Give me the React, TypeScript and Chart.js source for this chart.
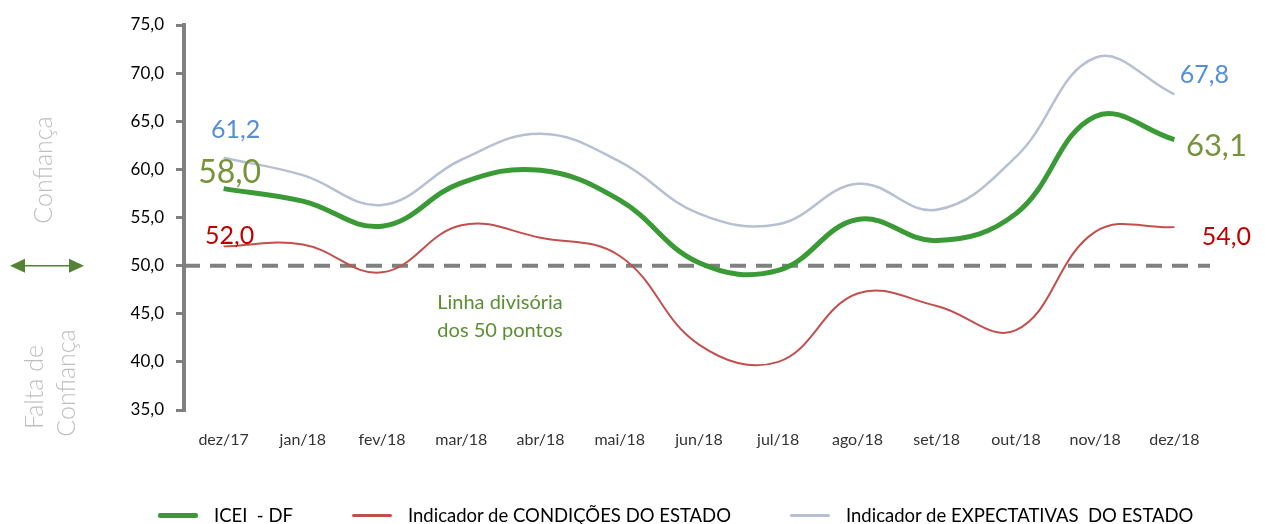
import React, { useEffect, useRef } from "react";
import { Chart, registerables } from "chart.js";

Chart.register(...registerables);

const categories = ["dez/17", "jan/18", "fev/18", "mar/18", "abr/18", "mai/18", "jun/18", "jul/18", "ago/18", "set/18", "out/18", "nov/18", "dez/18"];
const iceiDF = [58.0, 56.7, 54.1, 58.6, 59.9, 56.8, 50.3, 49.5, 54.8, 52.6, 55.4, 65.5, 63.1];
const condicoes = [52.0, 52.2, 49.3, 54.2, 52.9, 51.0, 41.8, 40.0, 47.1, 45.8, 43.3, 53.5, 54.0];
const expectativas = [61.2, 59.4, 56.3, 61.0, 63.7, 60.8, 55.4, 54.3, 58.5, 55.8, 61.3, 71.6, 67.8];
const seriesNames = ["ICEI  - DF", "Indicador de CONDIÇÕES DO ESTADO", "Indicador de EXPECTATIVAS  DO ESTADO"];
const dividerValue = 50;
const yMin = 35;
const yMax = 75;

const FONT = "Lato, 'Open Sans', sans-serif";

const fmt = (v: number) => v.toFixed(1).replace(".", ",");

const decorPlugin = {
  id: "decor",
  beforeDatasetsDraw(chart: any) {
    const { ctx, chartArea, scales } = chart;
    const y = scales.y.getPixelForValue(dividerValue);
    ctx.save();
    ctx.strokeStyle = "#808080";
    ctx.lineWidth = 4;
    ctx.setLineDash([16, 10]);
    ctx.beginPath();
    ctx.moveTo(chartArea.left, y);
    ctx.lineTo(chartArea.right - 4, y);
    ctx.stroke();
    ctx.restore();
  },
  afterDatasetsDraw(chart: any) {
    const { ctx, scales } = chart;
    const y50 = scales.y.getPixelForValue(dividerValue);
    ctx.save();
    // divider annotation
    ctx.fillStyle = "#5B8F33";
    ctx.font = `20px ${FONT}`;
    ctx.textAlign = "center";
    ctx.textBaseline = "middle";
    ctx.fillText("Linha divisória", 500, y50 + 37);
    ctx.fillText("dos 50 pontos", 500, y50 + 65);

    // arrow
    ctx.strokeStyle = "#548235";
    ctx.fillStyle = "#548235";
    ctx.lineWidth = 1.5;
    ctx.beginPath();
    ctx.moveTo(20, y50);
    ctx.lineTo(74, y50);
    ctx.stroke();
    ctx.beginPath();
    ctx.moveTo(10, y50);
    ctx.lineTo(25, y50 - 7);
    ctx.lineTo(25, y50 + 7);
    ctx.closePath();
    ctx.fill();
    ctx.beginPath();
    ctx.moveTo(84, y50);
    ctx.lineTo(69, y50 - 7);
    ctx.lineTo(69, y50 + 7);
    ctx.closePath();
    ctx.fill();

    // rotated labels
    ctx.fillStyle = "#BFBFBF";
    ctx.font = `300 25px ${FONT}`;
    const rot = (t: string, x: number, yy: number) => {
      ctx.save();
      ctx.translate(x, yy);
      ctx.rotate(-Math.PI / 2);
      ctx.fillText(t, 0, 0);
      ctx.restore();
    };
    rot("Confiança", 44, 170);
    rot("Falta de", 35, 387);
    rot("Confiança", 67, 383);

    // data labels
    const lab = (di: number, idx: number, text: string, color: string, size: number, dx: number, dy: number) => {
      const pt = chart.getDatasetMeta(di).data[idx];
      ctx.fillStyle = color;
      ctx.font = `${size}px ${FONT}`;
      ctx.textAlign = "center";
      ctx.textBaseline = "middle";
      ctx.fillText(text, pt.x + dx, pt.y + dy);
    };
    const last = categories.length - 1;
    lab(2, 0, fmt(expectativas[0]), "#558ED5", 25, 12, -28);
    lab(0, 0, fmt(iceiDF[0]), "#77933C", 32, 6, -16);
    lab(1, 0, fmt(condicoes[0]), "#C00000", 25, 6, -10);
    lab(2, last, fmt(expectativas[last]), "#558ED5", 25, 30, -19);
    lab(0, last, fmt(iceiDF[last]), "#77933C", 31, 42, 6);
    lab(1, last, fmt(condicoes[last]), "#C00000", 25, 52, 10);
    ctx.restore();
  },
};

export default function App() {
  const ref = useRef<HTMLCanvasElement | null>(null);
  useEffect(() => {
    document.body.style.margin = "0";
    const chart = new Chart(ref.current as HTMLCanvasElement, {
      type: "line",
      data: {
        labels: categories,
        datasets: [
          { label: seriesNames[0], data: iceiDF, borderColor: "#3A9A35", borderWidth: 5, pointRadius: 0, tension: 0.4, fill: false },
          { label: seriesNames[1], data: condicoes, borderColor: "#C0504D", borderWidth: 2, pointRadius: 0, tension: 0.4, fill: false },
          { label: seriesNames[2], data: expectativas, borderColor: "#B7BFD2", borderWidth: 2.5, pointRadius: 0, tension: 0.4, fill: false },
        ],
      },
      options: {
        animation: false,
        responsive: true,
        maintainAspectRatio: false,
        layout: { padding: { left: 100, right: 51, top: 25, bottom: 74 } },
        plugins: { legend: { display: false }, tooltip: { enabled: false } },
        scales: {
          x: {
            offset: true,
            grid: { display: false, drawTicks: false },
            border: { display: false },
            ticks: { padding: 20, color: "#333333", font: { family: FONT, size: 16 }, maxRotation: 0 },
            afterFit: (s: any) => { s.height = 40; },
          },
          y: {
            min: yMin,
            max: yMax,
            ticks: { stepSize: 5, padding: 12, color: "#000000", font: { family: FONT, size: 17 }, callback: (v: any) => fmt(Number(v)) },
            grid: { drawOnChartArea: false, drawTicks: true, tickLength: 8, color: "#808080", lineWidth: 3 },
            border: { display: true, color: "#808080", width: 4 },
            afterFit: (s: any) => { s.width = 84; },
          },
        },
      },
      plugins: [decorPlugin],
    });
    return () => chart.destroy();
  }, []);

  const legendItems = [
    { name: seriesNames[0], color: "#3A9A35", h: 5, x: 158 },
    { name: seriesNames[1], color: "#C0504D", h: 3, x: 352 },
    { name: seriesNames[2], color: "#B7BFD2", h: 3, x: 790 },
  ];

  return (
    <div style={{ position: "relative", width: 1265, height: 524 }}>
      <canvas ref={ref} />
      {legendItems.map((it) => (
        <div key={it.name} style={{ position: "absolute", left: it.x, top: 504, height: 22, display: "flex", alignItems: "center", fontFamily: FONT, fontSize: 18.5, color: "#000", whiteSpace: "pre" }}>
          <span style={{ display: "inline-block", width: 40, height: it.h, background: it.color, borderRadius: 2, marginRight: 16 }} />
          <span>{it.name}</span>
        </div>
      ))}
    </div>
  );
}
